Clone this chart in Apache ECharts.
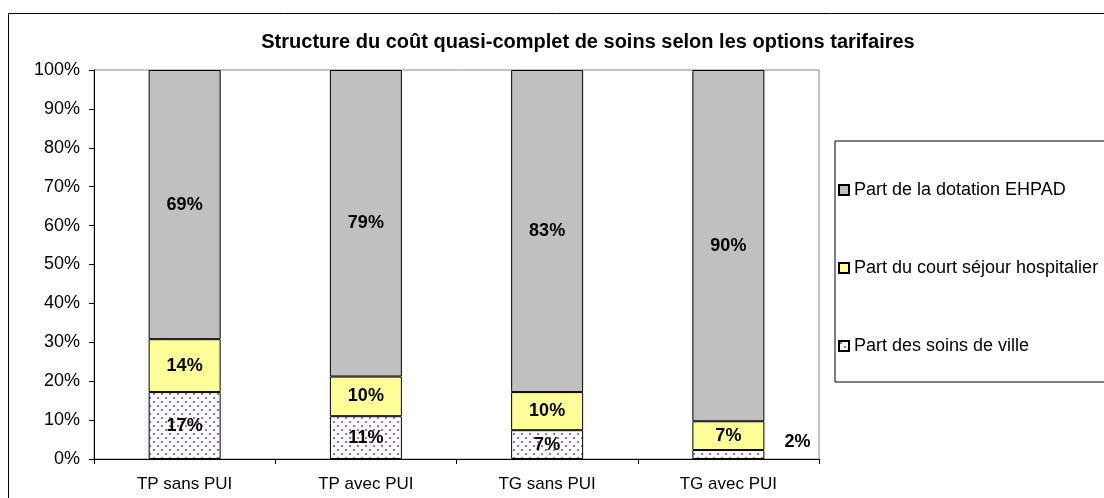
<!DOCTYPE html>
<html>
<head>
<meta charset="utf-8">
<script src="https://cdn.jsdelivr.net/npm/echarts@6/dist/echarts.min.js"></script>
<style>
  html, body { margin: 0; padding: 0; background: #fff; }
  #chart { width: 1104px; height: 498px; }
</style>
</head>
<body>
<div id="chart"></div>
<script>
const categories = ['TP sans PUI', 'TP avec PUI', 'TG sans PUI', 'TG avec PUI']
const soinsVille = [17.2, 11.0, 7.4, 2.3]
const courtSejour = [13.6, 10.2, 9.8, 7.4]
const dotationEhpad = [69.2, 78.8, 82.8, 90.3]
const yTicks = [0, 10, 20, 30, 40, 50, 60, 70, 80, 90, 100]

const FONT = '"Liberation Sans", Arial, sans-serif'

// dotted fill used for "soins de ville"
function dotPattern() {
  const c = document.createElement('canvas')
  c.width = 8
  c.height = 8
  const ctx = c.getContext('2d')
  ctx.fillStyle = '#ffffff'
  ctx.fillRect(0, 0, 8, 8)
  ctx.fillStyle = '#c06a98'
  ctx.fillRect(1, 1, 2, 2)
  ctx.fillRect(5, 5, 2, 2)
  return c
}

const chart = echarts.init(document.getElementById('chart'))

const labelStyle = {
  show: true,
  position: 'inside',
  fontFamily: FONT,
  fontSize: 18,
  fontWeight: 'bold',
  color: '#000',
  formatter: p => Math.round(p.value) + '%'
}

function barSeries(name, data, color) {
  return {
    name: name,
    type: 'bar',
    stack: 'total',
    barWidth: 72,
    data: data,
    itemStyle: { color: color, borderColor: '#000', borderWidth: 1 },
    label: labelStyle,
    emphasis: { disabled: true }
  }
}

const villeSeries = barSeries('Part des soins de ville', soinsVille.map((v, i) => {
  if (i === 3) {
    return { value: v, label: { position: 'right', distance: 20, offset: [0, -12] } }
  }
  return v
}), { image: dotPattern(), repeat: 'repeat' })

const option = {
  animation: false,
  backgroundColor: '#fff',
  title: {
    text: 'Structure du coût quasi-complet de soins selon les options tarifaires',
    left: 583,
    top: 27,
    textAlign: 'center',
    textStyle: { fontFamily: FONT, fontSize: 20, fontWeight: 'bold', color: '#000' }
  },
  graphic: [{
    type: 'rect',
    shape: { x: 8.5, y: 13.5, width: 1200, height: 600 },
    style: { fill: null, stroke: '#000', lineWidth: 1 },
    silent: true,
    z: -1
  }],
  legend: {
    orient: 'vertical',
    left: 835,
    top: 141,
    padding: [40, 30, 27, 3],
    borderColor: '#000',
    borderWidth: 1,
    itemGap: 60,
    itemWidth: 10,
    itemHeight: 10,
    icon: 'rect',
    data: ['Part de la dotation EHPAD', 'Part du court séjour hospitalier', 'Part des soins de ville'],
    textStyle: { fontFamily: FONT, fontSize: 18, color: '#000' },
    selectedMode: false
  },
  grid: {
    left: 94,
    right: 1104 - 819,
    top: 70,
    bottom: 498 - 459,
    show: true,
    borderColor: '#888',
    borderWidth: 1,
    containLabel: false
  },
  xAxis: {
    type: 'category',
    data: categories,
    axisLine: { lineStyle: { color: '#000' } },
    axisTick: { show: true, alignWithLabel: false, length: 5, lineStyle: { color: '#000' } },
    axisLabel: { fontFamily: FONT, fontSize: 17, color: '#000', margin: 17 }
  },
  yAxis: {
    type: 'value',
    min: 0,
    max: 100,
    interval: 10,
    axisLine: { show: true, lineStyle: { color: '#000' } },
    axisTick: { show: true, length: 5, lineStyle: { color: '#000' } },
    splitLine: { show: false },
    axisLabel: {
      fontFamily: FONT,
      fontSize: 18,
      color: '#000',
      margin: 14,
      customValues: yTicks,
      formatter: v => v + '%'
    }
  },
  series: [
    villeSeries,
    barSeries('Part du court séjour hospitalier', courtSejour, '#ffff99'),
    barSeries('Part de la dotation EHPAD', dotationEhpad, '#c0c0c0')
  ]
}

chart.setOption(option)
</script>
</body>
</html>
